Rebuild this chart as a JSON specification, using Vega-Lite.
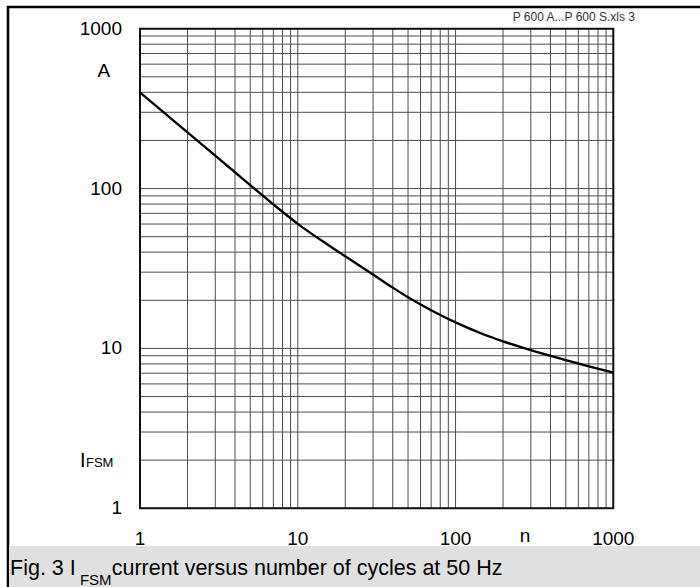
{
  "$schema": "https://vega.github.io/schema/vega-lite/v6.json",
  "width": 702,
  "height": 590,
  "autosize": {"type": "none"},
  "padding": {"left": 8, "top": 7, "right": -10, "bottom": -10},
  "background": "white",
  "config": {
    "view": {"stroke": "black", "strokeWidth": 2.5},
    "font": "Liberation Sans",
    "text": {"font": "Liberation Sans", "color": "black"}
  },
  "datasets": {
    "curve": [
      {"n": 1, "I": 400}, {"n": 2, "I": 225}, {"n": 3, "I": 160.7}, {"n": 4, "I": 126.5},
      {"n": 5, "I": 105}, {"n": 7, "I": 79.6}, {"n": 10, "I": 60.2}, {"n": 15, "I": 45.5},
      {"n": 20, "I": 37.7}, {"n": 30, "I": 29.0}, {"n": 40, "I": 24.0}, {"n": 50, "I": 20.9},
      {"n": 70, "I": 17.35}, {"n": 100, "I": 14.56}, {"n": 150, "I": 12.27}, {"n": 200, "I": 11.07},
      {"n": 300, "I": 9.75}, {"n": 500, "I": 8.45}, {"n": 700, "I": 7.73}, {"n": 1000, "I": 7.05}
    ],
    "grid": [
      {"v": 1}, {"v": 2}, {"v": 3}, {"v": 4}, {"v": 5}, {"v": 6}, {"v": 7}, {"v": 8}, {"v": 9},
      {"v": 10}, {"v": 20}, {"v": 30}, {"v": 40}, {"v": 50}, {"v": 60}, {"v": 70}, {"v": 80}, {"v": 90},
      {"v": 100}, {"v": 200}, {"v": 300}, {"v": 400}, {"v": 500}, {"v": 600}, {"v": 700}, {"v": 800}, {"v": 900},
      {"v": 1000}
    ],
    "ticks": [
      {"v": 1, "lab": "1"}, {"v": 10, "lab": "10"}, {"v": 100, "lab": "100"}, {"v": 1000, "lab": "1000"}
    ]
  },
  "layer": [
    {
      "data": {"name": "grid"},
      "mark": {"type": "rule", "color": "#4c4c4c", "strokeWidth": 1},
      "encoding": {
        "y": {"field": "v", "type": "quantitative", "scale": {"type": "log", "domain": [1, 1000], "range": [501.3, 21.7], "nice": false}, "axis": null},
        "x": {"datum": 1, "type": "quantitative", "scale": {"type": "log", "domain": [1, 1000], "range": [132, 605.3], "nice": false}, "axis": null},
        "x2": {"datum": 1000}
      }
    },
    {
      "data": {"name": "grid"},
      "mark": {"type": "rule", "color": "#4c4c4c", "strokeWidth": 1},
      "encoding": {
        "x": {"field": "v", "type": "quantitative", "scale": {"type": "log", "domain": [1, 1000], "range": [132, 605.3], "nice": false}, "axis": null},
        "y": {"datum": 1, "type": "quantitative", "scale": {"type": "log", "domain": [1, 1000], "range": [501.3, 21.7], "nice": false}, "axis": null},
        "y2": {"datum": 1000}
      }
    },
    {
      "data": {"values": [{"k": "frame"}]},
      "mark": {"type": "rect", "filled": false, "stroke": "#111111", "strokeWidth": 2},
      "encoding": {
        "x": {"datum": 1, "type": "quantitative", "scale": {"type": "log", "domain": [1, 1000], "range": [132, 605.3], "nice": false}, "axis": null},
        "x2": {"datum": 1000},
        "y": {"datum": 1, "type": "quantitative", "scale": {"type": "log", "domain": [1, 1000], "range": [501.3, 21.7], "nice": false}, "axis": null},
        "y2": {"datum": 1000}
      }
    },
    {
      "data": {"name": "curve"},
      "mark": {"type": "line", "color": "black", "strokeWidth": 2.3, "interpolate": "monotone"},
      "encoding": {
        "x": {"field": "n", "type": "quantitative", "scale": {"type": "log", "domain": [1, 1000], "range": [132, 605.3], "nice": false}, "axis": null},
        "y": {"field": "I", "type": "quantitative", "scale": {"type": "log", "domain": [1, 1000], "range": [501.3, 21.7], "nice": false}, "axis": null}
      }
    },
    {
      "data": {"name": "ticks"},
      "mark": {"type": "text", "fontSize": 19, "align": "center", "baseline": "alphabetic"},
      "encoding": {
        "text": {"field": "lab"},
        "x": {"field": "v", "type": "quantitative", "scale": {"type": "log", "domain": [1, 1000], "range": [132, 605.3], "nice": false}, "axis": null},
        "y": {"datum": 0.5893, "type": "quantitative", "scale": {"type": "log", "domain": [1, 1000], "range": [501.3, 21.7], "nice": false}, "axis": null}
      }
    },
    {
      "data": {"name": "ticks"},
      "mark": {"type": "text", "fontSize": 19, "align": "right", "baseline": "middle"},
      "encoding": {
        "text": {"field": "lab"},
        "y": {"field": "v", "type": "quantitative", "scale": {"type": "log", "domain": [1, 1000], "range": [501.3, 21.7], "nice": false}, "axis": null},
        "x": {"datum": 0.769, "type": "quantitative", "scale": {"type": "log", "domain": [1, 1000], "range": [132, 605.3], "nice": false}, "axis": null}
      }
    },
    {
      "data": {"values": [{"k": "bar"}]},
      "mark": {"type": "rect", "color": "#e0e0e0"},
      "encoding": {
        "x": {"datum": 0.1478, "type": "quantitative", "scale": {"type": "log", "domain": [1, 1000], "range": [132, 605.3], "nice": false}, "axis": null},
        "x2": {"datum": 20000},
        "y": {"datum": 0.5809, "type": "quantitative", "scale": {"type": "log", "domain": [1, 1000], "range": [501.3, 21.7], "nice": false}, "axis": null},
        "y2": {"datum": 0.05}
      }
    },
    {
      "data": {"values": [{"t": "A"}]},
      "mark": {"type": "text", "fontSize": 19, "align": "center", "baseline": "middle"},
      "encoding": {
        "text": {"field": "t"},
        "x": {"datum": 0.591, "type": "quantitative", "scale": {"type": "log", "domain": [1, 1000], "range": [132, 605.3], "nice": false}, "axis": null},
        "y": {"datum": 543, "type": "quantitative", "scale": {"type": "log", "domain": [1, 1000], "range": [501.3, 21.7], "nice": false}, "axis": null}
      }
    },
    {
      "data": {"values": [{"t": "I"}]},
      "mark": {"type": "text", "fontSize": 20, "align": "left", "baseline": "alphabetic"},
      "encoding": {
        "text": {"field": "t"},
        "x": {"datum": 0.4166, "type": "quantitative", "scale": {"type": "log", "domain": [1, 1000], "range": [132, 605.3], "nice": false}, "axis": null},
        "y": {"datum": 1.813, "type": "quantitative", "scale": {"type": "log", "domain": [1, 1000], "range": [501.3, 21.7], "nice": false}, "axis": null}
      }
    },
    {
      "data": {"values": [{"t": "FSM"}]},
      "mark": {"type": "text", "fontSize": 13, "align": "left", "baseline": "alphabetic"},
      "encoding": {
        "text": {"field": "t"},
        "x": {"datum": 0.4546, "type": "quantitative", "scale": {"type": "log", "domain": [1, 1000], "range": [132, 605.3], "nice": false}, "axis": null},
        "y": {"datum": 1.813, "type": "quantitative", "scale": {"type": "log", "domain": [1, 1000], "range": [501.3, 21.7], "nice": false}, "axis": null}
      }
    },
    {
      "data": {"values": [{"t": "n"}]},
      "mark": {"type": "text", "fontSize": 19, "align": "center", "baseline": "alphabetic"},
      "encoding": {
        "text": {"field": "t"},
        "x": {"datum": 275.6, "type": "quantitative", "scale": {"type": "log", "domain": [1, 1000], "range": [132, 605.3], "nice": false}, "axis": null},
        "y": {"datum": 0.6153, "type": "quantitative", "scale": {"type": "log", "domain": [1, 1000], "range": [501.3, 21.7], "nice": false}, "axis": null}
      }
    },
    {
      "data": {"values": [{"t": "P 600 A...P 600 S.xls 3"}]},
      "mark": {"type": "text", "fontSize": 12, "align": "right", "baseline": "alphabetic", "color": "#333333"},
      "encoding": {
        "text": {"field": "t"},
        "x": {"datum": 1373, "type": "quantitative", "scale": {"type": "log", "domain": [1, 1000], "range": [132, 605.3], "nice": false}, "axis": null},
        "y": {"datum": 1117, "type": "quantitative", "scale": {"type": "log", "domain": [1, 1000], "range": [501.3, 21.7], "nice": false}, "axis": null}
      }
    },
    {
      "data": {"values": [{"t": "Fig. 3 I"}]},
      "mark": {"type": "text", "fontSize": 21.5, "align": "left", "baseline": "alphabetic"},
      "encoding": {
        "text": {"field": "t"},
        "x": {"datum": 0.150, "type": "quantitative", "scale": {"type": "log", "domain": [1, 1000], "range": [132, 605.3], "nice": false}, "axis": null},
        "y": {"datum": 0.3826, "type": "quantitative", "scale": {"type": "log", "domain": [1, 1000], "range": [501.3, 21.7], "nice": false}, "axis": null}
      }
    },
    {
      "data": {"values": [{"t": "FSM"}]},
      "mark": {"type": "text", "fontSize": 15, "align": "left", "baseline": "alphabetic"},
      "encoding": {
        "text": {"field": "t"},
        "x": {"datum": 0.416, "type": "quantitative", "scale": {"type": "log", "domain": [1, 1000], "range": [132, 605.3], "nice": false}, "axis": null},
        "y": {"datum": 0.3313, "type": "quantitative", "scale": {"type": "log", "domain": [1, 1000], "range": [501.3, 21.7], "nice": false}, "axis": null}
      }
    },
    {
      "data": {"values": [{"t": "current versus number of cycles at 50 Hz"}]},
      "mark": {"type": "text", "fontSize": 21.5, "align": "left", "baseline": "alphabetic"},
      "encoding": {
        "text": {"field": "t"},
        "x": {"datum": 0.662, "type": "quantitative", "scale": {"type": "log", "domain": [1, 1000], "range": [132, 605.3], "nice": false}, "axis": null},
        "y": {"datum": 0.3826, "type": "quantitative", "scale": {"type": "log", "domain": [1, 1000], "range": [501.3, 21.7], "nice": false}, "axis": null}
      }
    }
  ]
}
